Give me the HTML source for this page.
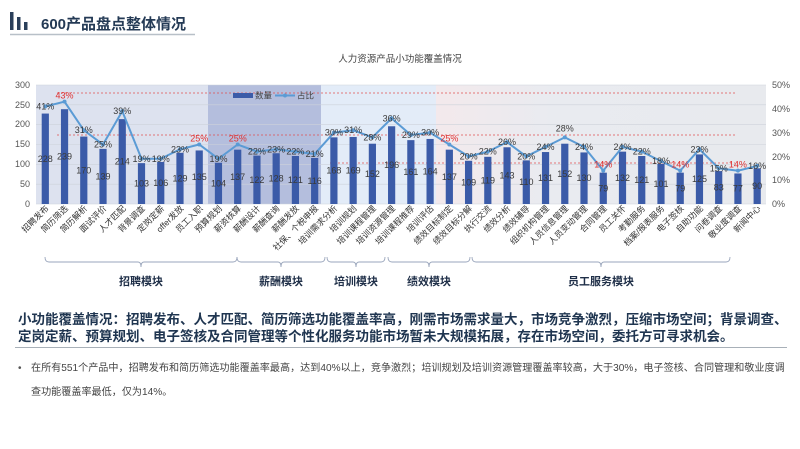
<!DOCTYPE html>
<html><head><meta charset="utf-8"><style>
body{margin:0;width:800px;height:449px;background:#fff;overflow:hidden;font-family:"Liberation Sans","Noto Sans CJK SC",sans-serif;position:relative}
.h{position:absolute;left:41px;top:13px;font-size:15px;font-weight:bold;color:#243a55}
.b1{position:absolute;left:18px;top:311px;font-size:13.5px;font-weight:bold;color:#1f3550;line-height:17px;white-space:nowrap}
.rule{position:absolute;left:15px;top:347px;width:772px;height:1px;background:#a8b0b8}
.t{position:absolute;left:31px;top:357px;font-size:10.1px;color:#444;line-height:24px;white-space:nowrap}
.dot{position:absolute;left:18px;top:357px;font-size:10px;color:#555;line-height:24px}
</style></head><body>
<svg width="800" height="449" style="position:absolute;left:0;top:0" font-family="Liberation Sans, Noto Sans CJK SC, sans-serif">
<rect x="10" y="12" width="3.5" height="18" fill="#2a3f5a"/><rect x="17" y="17" width="3.5" height="13" fill="#2a3f5a"/><rect x="24" y="22" width="3.5" height="8" fill="#2a3f5a"/>
<line x1="10" y1="34.5" x2="195" y2="34.5" stroke="#b8c0c8" stroke-width="1.5"/>
<text x="400" y="62" font-size="9.5" fill="#444" text-anchor="middle">人力资源产品小功能覆盖情况</text>
<defs><linearGradient id="g4" x1="0" x2="1"><stop offset="0" stop-color="#f3e9ec"/><stop offset="0.35" stop-color="#e9ebf0"/><stop offset="1" stop-color="#e8eaee"/></linearGradient></defs>
<rect x="36" y="85" width="172" height="119" fill="#dde2ef"/>
<rect x="208" y="85" width="113" height="119" fill="#b4bedd"/>
<rect x="321" y="85" width="115" height="119" fill="#e3ecf8"/>
<rect x="436" y="85" width="330" height="119" fill="url(#g4)"/>
<g id="grid" stroke="#cdd2da" stroke-width="0.6"></g>
<g font-size="9" fill="#555" text-anchor="end">
<text x="30" y="207">0</text><text x="30" y="187">50</text><text x="30" y="167">100</text><text x="30" y="147">150</text><text x="30" y="127">200</text><text x="30" y="108">250</text><text x="30" y="88">300</text></g>
<g font-size="9" fill="#555">
<text x="772" y="207">0%</text><text x="772" y="183">10%</text><text x="772" y="160">20%</text><text x="772" y="136">30%</text><text x="772" y="112">40%</text><text x="772" y="88">50%</text></g>
<g stroke="#e05050" stroke-width="0.8" stroke-dasharray="2,2"><line x1="57" y1="93" x2="735" y2="93"/><line x1="57" y1="135" x2="735" y2="135"/><line x1="330" y1="163" x2="735" y2="163"/></g>
<g id="bars" fill="#3b5ba8"></g>
<polyline id="ln" fill="none" stroke="#5b9bd5" stroke-width="2"/>
<g id="pts" fill="#5b9bd5"></g>
<rect x="233" y="93" width="20" height="5" fill="#3b5ba8"/><text x="255" y="98.5" font-size="8.5" fill="#444">数量</text>
<line x1="275" y1="95.5" x2="295" y2="95.5" stroke="#5b9bd5" stroke-width="2"/><circle cx="285" cy="95.5" r="2" fill="#5b9bd5"/><text x="297" y="98.5" font-size="8.5" fill="#444">占比</text>
<g id="vals" font-size="9" fill="#3a3a3a" text-anchor="middle">
<text>228</text><text>239</text><text>170</text><text>139</text><text>214</text><text>103</text><text>106</text><text>129</text><text>135</text><text>104</text><text>137</text><text>122</text><text>128</text><text>121</text><text>116</text><text>168</text><text>169</text><text>152</text><text>196</text><text>161</text><text>164</text><text>137</text><text>109</text><text>119</text><text>143</text><text>110</text><text>131</text><text>152</text><text>130</text><text>79</text><text>132</text><text>121</text><text>101</text><text>79</text><text>125</text><text>83</text><text>77</text><text>90</text></g>
<g id="pcts" font-size="9" fill="#3a3a3a" text-anchor="middle">
<text>41%</text><text>43%</text><text>31%</text><text>25%</text><text>39%</text><text>19%</text><text>19%</text><text>23%</text><text>25%</text><text>19%</text><text>25%</text><text>22%</text><text>23%</text><text>22%</text><text>21%</text><text>30%</text><text>31%</text><text>28%</text><text>36%</text><text>29%</text><text>30%</text><text>25%</text><text>20%</text><text>22%</text><text>26%</text><text>20%</text><text>24%</text><text>28%</text><text>24%</text><text>14%</text><text>24%</text><text>22%</text><text>18%</text><text>14%</text><text>23%</text><text>15%</text><text>14%</text><text>16%</text></g>
<g id="cats" font-size="8.5" fill="#333" text-anchor="end">
<text>招聘发布</text><text>简历筛选</text><text>简历解析</text><text>面试评价</text><text>人才匹配</text><text>背景调查</text><text>定岗定薪</text><text>offer发放</text><text>员工入职</text><text>预算规划</text><text>薪资核算</text><text>薪酬设计</text><text>薪酬查询</text><text>薪酬发放</text><text>社保、个税申报</text><text>培训需求分析</text><text>培训规划</text><text>培训课程管理</text><text>培训资源管理</text><text>培训课程推荐</text><text>培训评估</text><text>绩效目标制定</text><text>绩效目标分解</text><text>执行交流</text><text>绩效分析</text><text>绩效辅导</text><text>组织机构管理</text><text>人员信息管理</text><text>人员变动管理</text><text>合同管理</text><text>员工关怀</text><text>考勤服务</text><text>档案/报表服务</text><text>电子签核</text><text>自助功能</text><text>问卷调查</text><text>敬业度调查</text><text>新闻中心</text></g>
<g id="br" fill="none" stroke="#9aa6bc" stroke-width="0.9"></g>
<g font-size="11" font-weight="bold" fill="#1f2f48" text-anchor="middle">
<text x="141" y="285">招聘模块</text><text x="281" y="285">薪酬模块</text><text x="356" y="285">培训模块</text><text x="429" y="285">绩效模块</text><text x="601" y="285">员工服务模块</text></g>
</svg>
<div class="h">600产品盘点整体情况</div>
<div class="b1">小功能覆盖情况：招聘发布、人才匹配、简历筛选功能覆盖率高，刚需市场需求量大，市场竞争激烈，压缩市场空间；背景调查、<br>定岗定薪、预算规划、电子签核及合同管理等个性化服务功能市场暂未大规模拓展，存在市场空间，委托方可寻求机会。</div>
<div class="rule"></div>
<div class="dot">•</div>
<div class="t">在所有551个产品中，招聘发布和简历筛选功能覆盖率最高，达到40%以上，竞争激烈；培训规划及培训资源管理覆盖率较高，大于30%，电子签核、合同管理和敬业度调<br>查功能覆盖率最低，仅为14%。</div>
<script>
var ns="http://www.w3.org/2000/svg";
var V=[228,239,170,139,214,103,106,129,135,104,137,122,128,121,116,168,169,152,196,161,164,137,109,119,143,110,131,152,130,79,132,121,101,79,125,83,77,90];
var P=[41,43,31,25,39,19,19,23,25,19,25,22,23,22,21,30,31,28,36,29,30,25,20,22,26,20,24,28,24,14,24,22,18,14,23,15,14,16];
var red=[1,8,10,21,29,33,36];
function X(i){return 45.3+19.24*i}
function mk(t,a,p){var e=document.createElementNS(ns,t);for(var k in a)e.setAttribute(k,a[k]);p.appendChild(e);return e}
var g=document.getElementById('grid');
for(var j=0;j<=6;j++){var y=204-j*119/6;mk('line',{x1:36,x2:766,y1:y,y2:y},g)}
var b=document.getElementById('bars'),pt=document.getElementById('pts'),s=[];
var vt=document.querySelectorAll('#vals text'),pc=document.querySelectorAll('#pcts text'),ct=document.querySelectorAll('#cats text');
for(var i=0;i<38;i++){var x=X(i),h=V[i]*119/300;mk('rect',{x:x-3.6,y:204-h,width:7.2,height:h},b);
var py=204-P[i]*2.38;s.push(x+','+py);mk('circle',{cx:x,cy:py,r:2},pt);
vt[i].setAttribute('x',x);vt[i].setAttribute('y',204-h/2+3);
pc[i].setAttribute('x',x);
if(red.indexOf(i)>=0){pc[i].setAttribute('fill','#e03030');pc[i].setAttribute('y',py-3);}else pc[i].setAttribute('y',py+3);
ct[i].setAttribute('transform','translate('+(x+4)+',209) rotate(-45)');}
pc[27].setAttribute('y',204-28*2.38-6);
document.getElementById('ln').setAttribute('points',s.join(' '));
var br=document.getElementById('br');
[[45,237,141],[237,325,281],[327,385,356],[388,470,429],[472,730,601]].forEach(function(a){
var d='M'+a[0]+',257 Q'+a[0]+',262 '+(a[0]+4)+',262 L'+(a[2]-3)+',262 Q'+a[2]+',262 '+a[2]+',267 Q'+a[2]+',262 '+(a[2]+3)+',262 L'+(a[1]-4)+',262 Q'+a[1]+',262 '+a[1]+',257';
mk('path',{d:d},br);});
</script>
</body></html>
